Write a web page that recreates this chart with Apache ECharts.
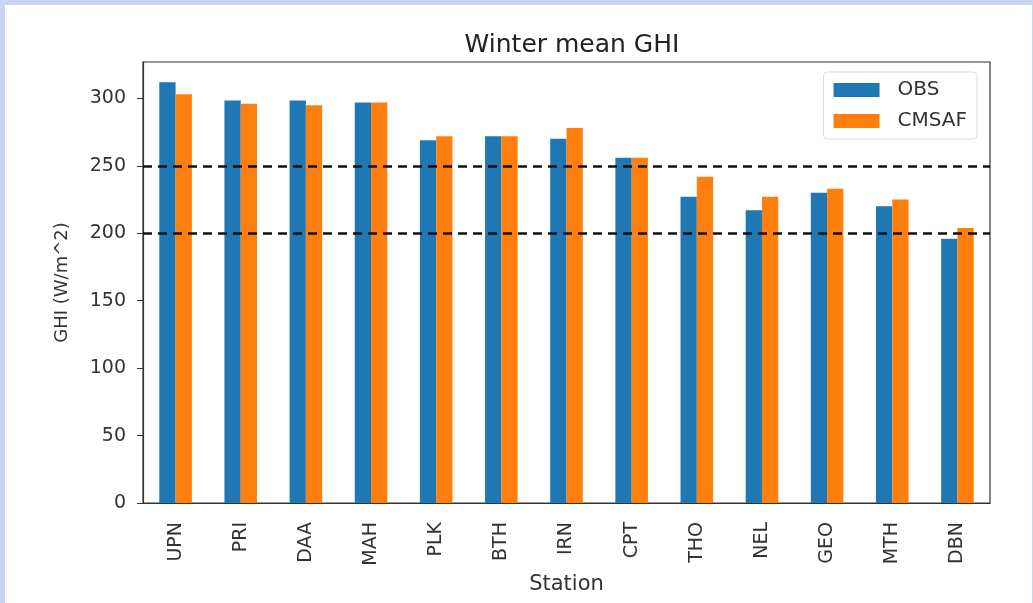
<!DOCTYPE html>
<html>
<head>
<meta charset="utf-8">
<script src="https://cdn.jsdelivr.net/npm/echarts@6/dist/echarts.min.js"></script>
<style>
  html, body { margin: 0; padding: 0; background: #c8d5ec; }
  #frame { position: absolute; left: 5px; top: 5px; width: 1027px; height: 598px; background: #fff; overflow: hidden; }
  #main { position: absolute; left: -5px; top: -5px; width: 1033px; height: 603px; }
</style>
</head>
<body>
<div id="frame"><div id="main"></div></div>
<script>
// stations and winter mean GHI (W/m^2)
var stations = ['UPN', 'PRI', 'DAA', 'MAH', 'PLK', 'BTH', 'IRN', 'CPT', 'THO', 'NEL', 'GEO', 'MTH', 'DBN'];
var obs = [312, 298.5, 298.5, 297, 269, 272, 270, 256, 227, 217, 230, 220, 196];
var cmsaf = [303, 296, 295, 297, 272, 272, 278, 256, 242, 227, 233, 225, 204];
var refLines = [250, 200];

var font = 'DejaVu Sans';
var textColor = '#333';

var chartDom = document.getElementById('main');
var myChart = echarts.init(chartDom);

var option = {
  animation: false,
  title: {
    text: 'Winter mean GHI',
    left: 567,
    top: 28,
    textAlign: 'center',
    textStyle: { fontFamily: font, fontSize: 25, fontWeight: 'normal', color: '#222' }
  },
  legend: {
    orient: 'vertical',
    right: 56,
    top: 72,
    icon: 'rect',
    itemWidth: 46,
    itemHeight: 14,
    itemGap: 11,
    padding: [8, 10, 8, 10],
    borderColor: '#ddd',
    borderWidth: 1,
    borderRadius: 4,
    backgroundColor: 'rgba(255,255,255,0.8)',
    textStyle: { fontFamily: font, fontSize: 20, color: textColor, padding: [0, 0, 0, 13] },
    data: ['OBS', 'CMSAF']
  },
  grid: {
    left: 143,
    right: 43,
    top: 62,
    bottom: 100,
    show: true,
    borderColor: '#333',
    borderWidth: 1.2,
    backgroundColor: 'transparent'
  },
  xAxis: {
    type: 'category',
    data: stations,
    name: 'Station',
    nameLocation: 'middle',
    nameGap: 71,
    nameTextStyle: { fontFamily: font, fontSize: 21, color: textColor },
    axisLine: { lineStyle: { color: '#333', width: 1.2 } },
    axisTick: { alignWithLabel: true, length: 6, lineStyle: { color: '#333' } },
    axisLabel: { rotate: 90, margin: 19, fontFamily: font, fontSize: 19, color: textColor }
  },
  yAxis: {
    type: 'value',
    min: 0,
    max: 327,
    interval: 50,
    name: 'GHI (W/m^2)',
    nameLocation: 'middle',
    nameGap: 72,
    nameTextStyle: { fontFamily: font, fontSize: 18, color: textColor },
    splitLine: { show: false },
    axisLine: { show: true, lineStyle: { color: '#333', width: 1.2 } },
    axisTick: { show: true, inside: false, length: 6, lineStyle: { color: '#333' } },
    axisLabel: {
      margin: 17,
      fontFamily: font,
      fontSize: 19,
      color: textColor,
      showMaxLabel: false,
      formatter: function (v) { return v % 50 === 0 ? v : ''; }
    }
  },
  series: [
    {
      name: 'OBS',
      type: 'bar',
      data: obs,
      barGap: '0%',
      barCategoryGap: '50%',
      itemStyle: { color: '#1f77b4' },
      markLine: {
        silent: true,
        symbol: 'none',
        label: { show: false },
        lineStyle: { color: '#111', type: [9, 6], width: 2.5 },
        data: refLines.map(function (v) { return { yAxis: v }; })
      },
      z: 2
    },
    {
      name: 'CMSAF',
      type: 'bar',
      data: cmsaf,
      barGap: '0%',
      barCategoryGap: '50%',
      itemStyle: { color: '#ff7f0e' },
      z: 2
    }
  ]
};

myChart.setOption(option);
window.onresize = function () { myChart.resize(); };
</script>
</body>
</html>
